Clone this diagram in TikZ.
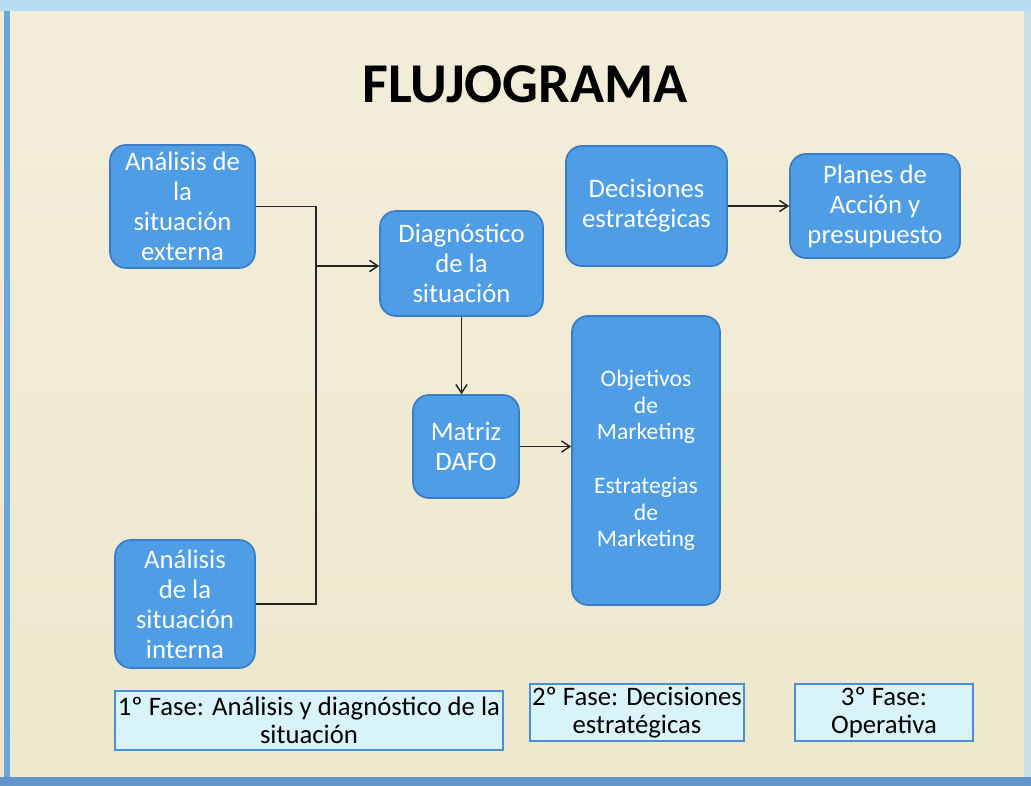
\documentclass[tikz,border=0pt]{standalone}
\usepackage{fontspec}
\setmainfont{Carlito}
\usetikzlibrary{arrows.meta}
\definecolor{paper}{HTML}{EDE7CD}
\definecolor{paperhi}{HTML}{F3EEDA}
\definecolor{frameblue}{HTML}{6AA6DE}
\definecolor{topblue}{HTML}{B8DCF2}
\definecolor{boxfill}{HTML}{4E9DE5}
\definecolor{boxedge}{HTML}{3A7DC6}
\definecolor{phasefill}{HTML}{D9F3FB}
\definecolor{phaseedge}{HTML}{4A8FD2}
\tikzset{
  stagebox/.style={draw=boxedge, line width=1.2pt, fill=boxfill, rounded corners=0.4cm,
    text=white, align=center, inner sep=0pt,
    font=\fontsize{19}{21.3}\selectfont},
  phasebox/.style={draw=phaseedge, line width=1.4pt, fill=phasefill, align=center,
    inner sep=0pt, font=\fontsize{19}{19.5}\selectfont},
  flow/.style={line width=1pt, black!85},
  flowarrow/.style={flow, -{Straight Barb[length=6pt,width=8pt,line width=1pt]}},
}
\begin{document}
\begin{tikzpicture}[x=0.025cm, y=-0.025cm]
  % page and frame
  \useasboundingbox (0,0) rectangle (1031,786);
  \shade[top color=paperhi, bottom color=paper] (0,0) rectangle (1031,786);
  \fill[topblue] (0,0) rectangle (1031,11);
  \fill[frameblue] (4,11) rectangle (10,778);
  \fill[topblue!70!paper] (1024,11) rectangle (1031,778);
  \fill[frameblue!90!black] (0,777) rectangle (1031,786);

  % title
  \node (title) at (525,84) {\fontsize{40}{44}\selectfont\bfseries FLUJOGRAMA};

  % stage boxes
  \node[stagebox, minimum width=3.625cm, minimum height=3.075cm] (ext) at (182.5,206.5)
    {Análisis de\\la\\situación\\externa};
  \node[stagebox, minimum width=3.5cm, minimum height=3.2cm] (int) at (185,604)
    {Análisis\\de la\\situación\\interna};
  \node[stagebox, minimum width=4.075cm, minimum height=2.625cm] (diag) at (461.5,263.5)
    {Diagnóstico\\de la\\situación};
  \node[stagebox, minimum width=4.025cm, minimum height=3.0cm] (dec) at (646.5,206)
    {Decisiones\\estratégicas};
  \node[stagebox, minimum width=4.25cm, minimum height=2.6cm] (plan) at (875,206)
    {Planes de\\Acción y\\presupuesto};
  \node[stagebox, minimum width=2.65cm, minimum height=2.575cm] (dafo) at (466,446.5)
    {Matriz\\DAFO};
  \node[stagebox, minimum width=3.7cm, minimum height=7.225cm,
        font=\fontsize{16.8}{19}\selectfont] (obj) at (646,460.5)
    {Objetivos\\de\\Marketing\\[19pt]Estrategias\\de\\Marketing};

  % phase labels
  \node[phasebox, minimum width=9.7cm, minimum height=1.475cm] (f1) at (309,720.5)
    {1º Fase: Análisis y diagnóstico de la\\situación};
  \node[phasebox, minimum width=5.35cm, minimum height=1.425cm] (f2) at (637,712.5)
    {2º Fase: Decisiones\\estratégicas};
  \node[phasebox, minimum width=4.45cm, minimum height=1.425cm] (f3) at (884,712.5)
    {3º Fase:\\Operativa};

  % connectors
  \coordinate (bus) at (316,266);
  \draw[flow] (ext.east) -| (bus) |- (int.east);
  \draw[flowarrow] (bus) -- (bus -| diag.west);
  \draw[flowarrow] (diag.south) -- (diag.south |- dafo.north);
  \draw[flowarrow] (dafo.east) -- (dafo.east -| obj.west);
  \draw[flowarrow] (dec.east) -- (plan.west);
\end{tikzpicture}
\end{document}
